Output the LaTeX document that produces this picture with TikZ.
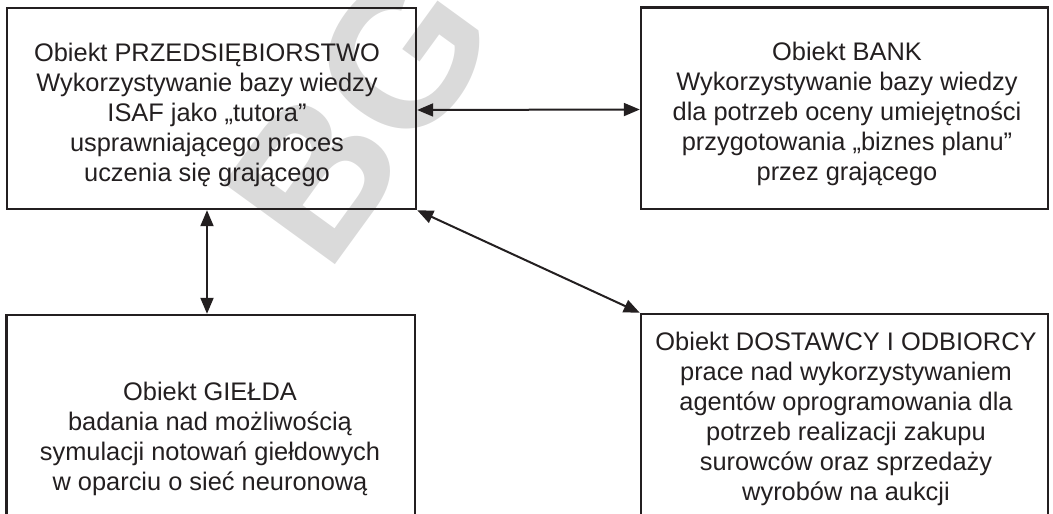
\documentclass[tikz,border=0pt]{standalone}
\usepackage{fontspec}
\setmainfont{Liberation Sans}
\usetikzlibrary{arrows.meta,calc}
\definecolor{ink}{HTML}{231F20}
\definecolor{stamp}{HTML}{DADADA}
\tikzset{
  objbox/.style={draw=ink, line width=2.4pt, inner sep=0pt, minimum width=#1},
  objtext/.style={anchor=north, inner sep=0pt, align=center, text=ink,
    font=\fontsize{25.4}{30}\selectfont},
  link/.style={draw=ink, line width=2pt,
    {Triangle[length=16pt,width=13pt]}-{Triangle[length=16pt,width=13pt]}},
  watermark/.style={text=stamp, inner sep=0pt, rotate=54,
    font=\bfseries\fontsize{200}{200}\selectfont}
}
\begin{document}
\begin{tikzpicture}[x=1pt,y=-1pt]
  \useasboundingbox (0,0) rectangle (1053,514);
  \clip (0,0) rectangle (1053,514);

  % faint stamp behind the drawing
  \node[watermark] (stampBG) at (360,114) {BG};

  % object boxes
  \node[objbox=409pt, minimum height=201pt] (b1) at (211.5,108.5) {};
  \node[objbox=407pt, minimum height=201.5pt] (b2) at (844.5,108.25) {};
  \node[objbox=408.5pt, minimum height=215pt] (b3) at (210.75,422.5) {};
  \node[objbox=407pt, minimum height=216pt] (b4) at (844.5,422) {};

  % box descriptions
  \node[objtext] (t1) at (207,42.7) {Obiekt PRZEDSIĘBIORSTWO\\Wykorzystywanie bazy wiedzy\\ISAF jako „tutora”\\usprawniającego proces\\uczenia się grającego};
  \node[objtext] (t2) at (847,41.7) {Obiekt BANK\\Wykorzystywanie bazy wiedzy\\dla potrzeb oceny umiejętności\\przygotowania „biznes planu”\\przez grającego};
  \node[objtext] (t3) at (210,381.7) {Obiekt GIEŁDA\\badania nad możliwością\\symulacji notowań giełdowych\\w oparciu o sieć neuronową};
  \node[objtext] (t4) at (846,331.7) {Obiekt DOSTAWCY I ODBIORCY\\prace nad wykorzystywaniem\\agentów oprogramowania dla\\potrzeb realizacji zakupu\\surowców oraz sprzedaży\\wyrobów na aukcji};

  % two-way links between the objects
  \draw[link] ([yshift=-1.5pt]b1.east) -- ([yshift=-1.25pt]b2.west);
  \draw[link] ([xshift=-4.5pt]b1.south) -- ([xshift=-3.75pt]b3.north);
  \draw[link] (b1.south east) -- (b4.north west);
\end{tikzpicture}
\end{document}
